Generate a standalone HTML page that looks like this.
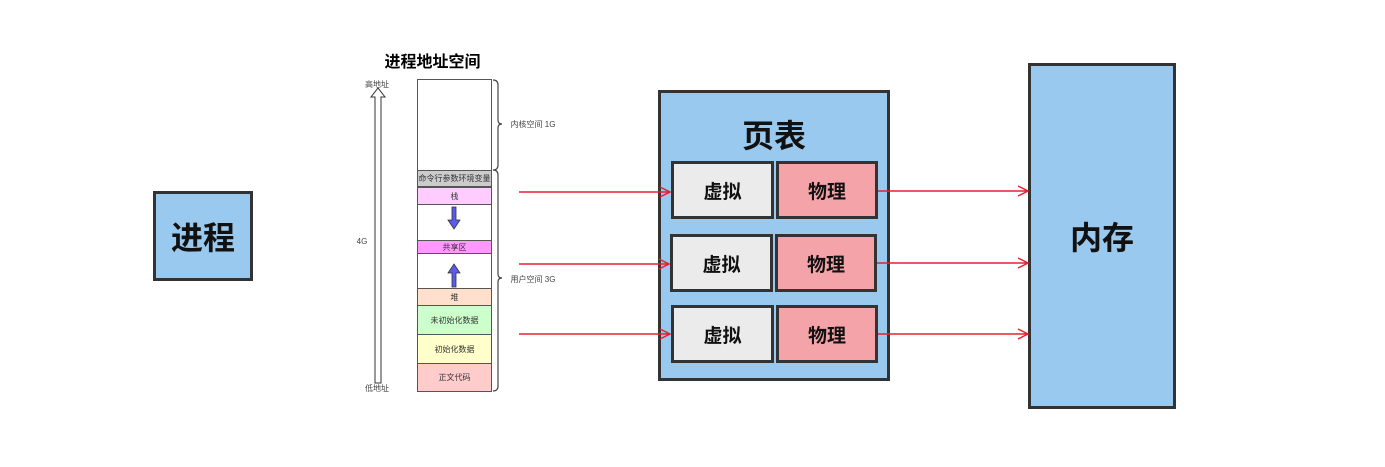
<!DOCTYPE html>
<html><head><meta charset="utf-8"><style>
body{margin:0;width:1385px;height:467px;background:#fff;position:relative;overflow:hidden;font-family:"Liberation Sans","Noto Sans CJK SC",sans-serif}
.a{position:absolute;box-sizing:border-box;display:flex;align-items:center;justify-content:center;text-align:center}
.m{left:417px;width:75px;border:1px solid #555;font-size:8px;color:#333}
.c{border:3px solid #333;font-size:19px;font-weight:bold;color:#111}
.s{font-size:8px;color:#444}
</style></head><body>
<div class="a c" style="left:153px;top:191px;width:100px;height:90px;background:#99c9ef;font-size:32px">进程</div>
<div class="a" style="left:375px;top:48px;width:115px;height:24px;font-size:16px;font-weight:bold">进程地址空间</div>
<div class="a s" style="left:362px;top:78px;width:30px;height:12px">高地址</div>
<div class="a s" style="left:362px;top:382px;width:30px;height:12px">低地址</div>
<div class="a s" style="left:352px;top:235px;width:20px;height:12px">4G</div>
<div class="a m" style="top:79px;height:92px;background:#fff"></div>
<div class="a m" style="top:170px;height:17px;background:#ccc">命令行参数环境变量</div>
<div class="a m" style="top:187px;height:18px;background:#ffccff">栈</div>
<div class="a m" style="top:204px;height:37px;background:#fff"></div>
<div class="a m" style="top:240px;height:14px;background:#ff99ff">共享区</div>
<div class="a m" style="top:253px;height:36px;background:#fff"></div>
<div class="a m" style="top:288px;height:18px;background:#ffe0cc">堆</div>
<div class="a m" style="top:305px;height:30px;background:#ccffcc">未初始化数据</div>
<div class="a m" style="top:334px;height:30px;background:#ffffcc">初始化数据</div>
<div class="a m" style="top:363px;height:29px;background:#ffcccc">正文代码</div>
<div class="a s" style="left:508px;top:118px;width:50px;height:12px">内核空间 1G</div>
<div class="a s" style="left:508px;top:273px;width:50px;height:12px">用户空间 3G</div>
<div class="a c" style="left:658px;top:90px;width:232px;height:291px;background:#99c9ef;align-items:flex-start;padding-top:18px;font-size:32px">页表</div>
<div class="a c" style="left:671px;top:161px;width:103px;height:58px;background:#ebebeb">虚拟</div>
<div class="a c" style="left:776px;top:161px;width:102px;height:58px;background:#f4a3a8">物理</div>
<div class="a c" style="left:670px;top:234px;width:103px;height:58px;background:#ebebeb">虚拟</div>
<div class="a c" style="left:775px;top:234px;width:102px;height:58px;background:#f4a3a8">物理</div>
<div class="a c" style="left:671px;top:305px;width:103px;height:58px;background:#ebebeb">虚拟</div>
<div class="a c" style="left:776px;top:305px;width:102px;height:58px;background:#f4a3a8">物理</div>
<div class="a c" style="left:1028px;top:63px;width:148px;height:346px;background:#99c9ef;font-size:32px">内存</div>
<svg style="position:absolute;left:0;top:0" width="1385" height="467">
<g fill="#fff" stroke="#333" stroke-width="1"><path d="M375,383 V97 H371 L378,88 L385,97 H381 V383 Z"/></g>
<g fill="none" stroke="#444" stroke-width="1.2">
<path d="M493,80 q5,0 5,5 V120 q0,4 4,4 q-4,0 -4,4 V165 q0,5 -5,5"/>
<path d="M493,170 q5,0 5,5 V274 q0,4 4,4 q-4,0 -4,4 V386 q0,5 -5,5"/>
</g>
<g fill="#5b5bf0" stroke="#333" stroke-width="0.8">
<path d="M452,207 h4 v13 h4 l-6,9 l-6,-9 h4 z"/>
<path d="M452,287 h4 v-14 h4 l-6,-9 l-6,9 h4 z"/>
</g>
<g stroke="#e52030" stroke-width="1.5" fill="none">
<path d="M519,192 H670 M660,187 L670,192 L660,197"/>
<path d="M519,264 H669 M659,259 L669,264 L659,269"/>
<path d="M519,334 H670 M660,329 L670,334 L660,339"/>
<path d="M878,191 H1028 M1018,186 L1028,191 L1018,196"/>
<path d="M877,263 H1028 M1018,258 L1028,263 L1018,268"/>
<path d="M878,334 H1028 M1018,329 L1028,334 L1018,339"/>
</g>
</svg>
</body></html>
